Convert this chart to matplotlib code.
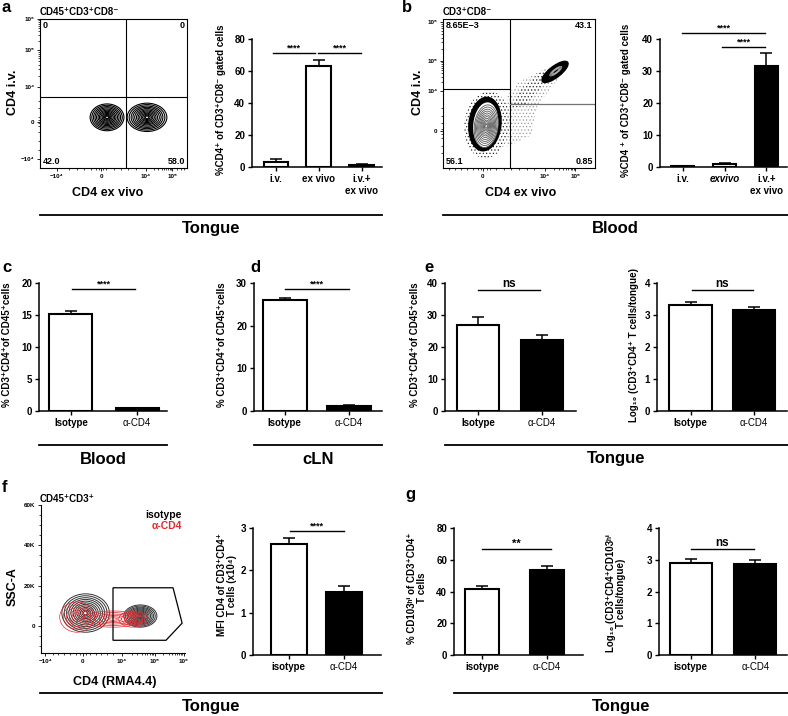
import numpy as np
import matplotlib
matplotlib.use('Agg')
import matplotlib.pyplot as plt
from matplotlib.patches import Ellipse, Polygon
from matplotlib.lines import Line2D

plt.rcParams['font.family'] = ['Liberation Sans', 'DejaVu Sans']
plt.rcParams['font.weight'] = 'bold'
plt.rcParams['hatch.linewidth'] = 0.5

W, H = 788, 716

# ---------------- data ----------------
# a - tongue, intravascular vs ex vivo CD4 staining
a_groups = ['i.v.', 'ex vivo', 'i.v.+\nex vivo']
a_means = [3.2, 63.2, 1.5]
a_sem = [1.8, 3.6, 0.6]
a_colors = ['white', 'white', 'black']
a_quad = ['0', '0', '42.0', '58.0']

# b - blood
b_groups = ['i.v.', 'exvivo', 'i.v.+\nex vivo']
b_means = [0.3, 1.0, 31.5]
b_sem = [0.1, 0.3, 4.1]
b_colors = ['white', 'white', 'black']
b_quad = ['8.65E\u22123', '43.1', '56.1', '0.85']

# c, d, e - depletion
dep_groups = ['Isotype', '\u03b1-CD4']
dep_colors = ['white', 'black']
c_means = [15.1, 0.4]
c_sem = [0.5, 0.1]
d_means = [26.0, 1.2]
d_sem = [0.6, 0.1]
e_pct_means = [26.8, 22.1]
e_pct_sem = [2.5, 1.8]
e_log_means = [3.3, 3.15]
e_log_sem = [0.1, 0.09]

# f, g - tongue after depletion
fg_groups = ['isotype', '\u03b1-CD4']
f_mfi_means = [2.62, 1.5]
f_mfi_sem = [0.15, 0.12]
g_pct_means = [41.5, 53.5]
g_pct_sem = [2.0, 2.5]
g_log_means = [2.9, 2.88]
g_log_sem = [0.12, 0.1]

# flow plot tick labels
a_flow_xlabels = ['\u221210\u2074', '0', '10\u2074', '10\u2075']
a_flow_ylabels = ['10\u2076', '10\u2075', '10\u2074', '0', '\u221210\u2074']
b_flow_xlabels = ['0', '10\u2074', '10\u2075']
b_flow_ylabels = ['10\u2076', '10\u2075', '10\u2074', '0']
f_flow_xlabels = ['\u221210\u2074', '0', '10\u2074', '10\u2075', '10\u2076']
f_flow_yticks = [0, 20, 40, 60]
f_flow_ylabels = ['0', '20K', '40K', '60K']

# contour populations (axes fraction; f uses x fraction / SSC in K)
a_pop_x = [0.456, 0.728]
a_pop_y = [0.34, 0.34]
a_pop_w = [0.23, 0.27]
a_pop_h = [0.18, 0.19]

b_pop_x = [0.276, 0.737]
b_pop_y = [0.295, 0.645]
b_pop_w = [0.21, 0.21]
b_pop_h = [0.36, 0.075]
b_pop_ang = [-6, 38]

f_black_x = [0.31, 0.69]
f_black_y = [6.5, 5.0]
f_black_w = [0.33, 0.23]
f_black_h = [19, 11]
f_red_x = [0.25, 0.50, 0.64]
f_red_y = [4.5, 3.5, 3.5]
f_red_w = [0.24, 0.42, 0.2]
f_red_h = [15, 8, 8]
f_gate_x = [0.5, 0.917, 0.98, 0.868, 0.5]
f_gate_y = [19, 19, 1.5, -7, -7]

ring_scales = [1.0, 0.9, 0.8, 0.71, 0.62, 0.53, 0.45, 0.37, 0.29, 0.22, 0.15, 0.09]

fig = plt.figure(figsize=(W / 100, H / 100), dpi=100)


def px_axes(l, t, r, b):
    return fig.add_axes([l / W, 1 - b / H, (r - l) / W, (b - t) / H])


def ftext(x, y, s, **kw):
    return fig.text(x / W, 1 - y / H, s, **kw)


def hline(x0, x1, y, lw=1.3):
    fig.add_artist(Line2D([x0 / W, x1 / W], [1 - y / H, 1 - y / H], color='black', lw=lw))


def log_minor(lo, hi):
    return [lo + np.log10(k) * (hi - lo) for k in range(2, 10)]


def rings(ax, x, y, w, h, angle=0, color='black', lw=0.6, scales=ring_scales, transform=None):
    tr = transform if transform is not None else ax.transData
    for s in scales:
        ax.add_patch(Ellipse((x, y), w * s, h * s, angle=angle, fill=False,
                             ec=color, lw=lw, transform=tr))


def flow_axes(rect):
    ax = px_axes(*rect)
    for sp in ax.spines.values():
        sp.set_linewidth(0.8)
    ax.tick_params(which='both', direction='out', labelsize=4.5, width=0.6, length=2.5, pad=1.5)
    ax.tick_params(which='minor', length=1.5, width=0.5)
    return ax


def bar_panel(rect, means, sem, colors, groups, ymax, yticks, xlim, width, ylabel, ylab_xy):
    ax = px_axes(*rect)
    x = np.arange(len(means))
    ax.bar(x, means, width=width, color=colors, edgecolor='black', linewidth=1.5, zorder=2)
    ax.errorbar(x, means, yerr=[[0] * len(sem), sem], fmt='none', ecolor='black',
                elinewidth=1.1, capsize=4, capthick=1.1, zorder=3)
    ax.set_xlim(*xlim)
    ax.set_ylim(0, ymax)
    ax.set_yticks(yticks)
    ax.set_xticks(x)
    ax.set_xticklabels(groups)
    ax.spines['top'].set_visible(False)
    ax.spines['right'].set_visible(False)
    ax.spines['left'].set_linewidth(1.1)
    ax.spines['bottom'].set_linewidth(1.1)
    ax.tick_params(labelsize=7, width=1, length=3, pad=2)
    for lab in ax.get_xticklabels():
        if '\u03b1' in lab.get_text():
            lab.set_fontweight('normal')
    ftext(ylab_xy[0], ylab_xy[1], ylabel, rotation=90, ha='center', va='center',
          fontsize=7, linespacing=1.1)
    return ax


def sig(ax, x0, x1, y, txt, fs=6.5):
    ax.plot([x0, x1], [y, y], color='black', lw=1.0, clip_on=False)
    ax.text((x0 + x1) / 2, y, txt, ha='center', va='bottom', fontsize=fs,
            fontweight='bold', clip_on=False)


def quad_labels(ax, labels):
    kw = dict(transform=ax.transAxes, fontsize=6.5, fontweight='bold')
    ax.text(0.02, 0.985, labels[0], ha='left', va='top', **kw)
    ax.text(0.985, 0.985, labels[1], ha='right', va='top', **kw)
    ax.text(0.02, 0.015, labels[2], ha='left', va='bottom', **kw)
    ax.text(0.985, 0.015, labels[3], ha='right', va='bottom', **kw)


# ---------------- panel a: flow plot ----------------
ax = flow_axes((40, 19, 187, 168))
ax.set_xlim(0, 1)
ax.set_ylim(0, 1)
ax.set_xticks([0.116, 0.415, 0.72, 0.90])
ax.set_xticklabels(a_flow_xlabels)
ax.set_xticks(log_minor(0.72, 0.90) + [0.93, 0.96, 0.98, 0.2, 0.25, 0.3, 0.35, 0.38, 0.40, 0.43, 0.45, 0.5, 0.55, 0.6, 0.65], minor=True)
ax.set_yticks([1.0, 0.79, 0.544, 0.309, 0.06])
ax.set_yticklabels(a_flow_ylabels)
ax.set_yticks(log_minor(0.544, 0.79) + log_minor(0.79, 1.0) + [0.12, 0.18, 0.24, 0.28, 0.3, 0.32, 0.34, 0.4, 0.45], minor=True)
for i in range(len(a_pop_x)):
    rings(ax, a_pop_x[i], a_pop_y[i], a_pop_w[i], a_pop_h[i], lw=0.8)
ax.axvline(0.585, color='black', lw=0.8)
ax.axhline(0.477, color='black', lw=0.8)
quad_labels(ax, a_quad)
ftext(40, 12, 'CD45\u207aCD3\u207aCD8\u207b', fontsize=7, ha='left', va='center')
ftext(108, 193, 'CD4 ex vivo', fontsize=9, ha='center', va='center')
ftext(13, 92, 'CD4 i.v.', fontsize=9, rotation=90, ha='center', va='center')

# ---------------- panel a: bars ----------------
ax = bar_panel((252, 39, 382, 167), a_means, a_sem, a_colors, a_groups, 80, [0, 20, 40, 60, 80],
               (-0.56, 2.47), 0.58, '%CD4\u207a of CD3\u207aCD8\u207b gated cells', (221, 100))
sig(ax, -0.07, 0.9, 71.3, '****')
sig(ax, 0.98, 1.98, 71.3, '****')

# ---------------- panel b: flow plot ----------------
ax = flow_axes((443, 19, 595, 168))
ax.set_xlim(0, 1)
ax.set_ylim(0, 1)
ax.set_xticks([0.263, 0.67, 0.87])
ax.set_xticklabels(b_flow_xlabels)
ax.set_xticks(log_minor(0.67, 0.87) + [0.04, 0.08, 0.12, 0.16, 0.2, 0.23, 0.25, 0.29, 0.31, 0.35, 0.4, 0.45, 0.5, 0.55, 0.6], minor=True)
ax.set_yticks([0.98, 0.718, 0.517, 0.248])
ax.set_yticklabels(b_flow_ylabels)
ax.set_yticks(log_minor(0.517, 0.718) + log_minor(0.718, 0.98) + [0.1, 0.15, 0.2, 0.23, 0.26, 0.3, 0.35, 0.4], minor=True)
# scattered events around and between the populations
ax.add_patch(Ellipse((0.29, 0.29), 0.30, 0.45, angle=-6, transform=ax.transAxes,
                     fill=False, ec='0.15', lw=0, hatch='.....'))
ax.add_patch(Polygon([(0.42, 0.14), (0.58, 0.22), (0.62, 0.42), (0.76, 0.60), (0.70, 0.68),
                      (0.50, 0.58), (0.42, 0.48)],
                     closed=True, transform=ax.transAxes, fill=False, ec='0.6', lw=0, hatch='.....'))
ax.add_patch(Polygon([(0.44, 0.40), (0.54, 0.42), (0.70, 0.60), (0.66, 0.66), (0.50, 0.52)],
                     closed=True, transform=ax.transAxes, fill=False, ec='0.25', lw=0, hatch='.....'))
# main population: black rim with contour interior
ax.add_patch(Ellipse((b_pop_x[0], b_pop_y[0]), b_pop_w[0], b_pop_h[0], angle=b_pop_ang[0],
                     transform=ax.transAxes, fc='black', ec='black'))
ax.add_patch(Ellipse((b_pop_x[0] + 0.005, b_pop_y[0] - 0.005), b_pop_w[0] * 0.78, b_pop_h[0] * 0.84,
                     angle=b_pop_ang[0], transform=ax.transAxes, fc='white', ec='none'))
rings(ax, b_pop_x[0] + 0.008, b_pop_y[0] - 0.015, b_pop_w[0] * 0.74, b_pop_h[0] * 0.8, angle=b_pop_ang[0],
      color='0.35', lw=0.6, scales=ring_scales, transform=ax.transAxes)
# double positive population
ax.add_patch(Ellipse((b_pop_x[1], b_pop_y[1]), b_pop_w[1], b_pop_h[1], angle=b_pop_ang[1],
                     transform=ax.transAxes, fc='black', ec='black'))
rings(ax, b_pop_x[1] + 0.005, b_pop_y[1] + 0.005, b_pop_w[1] * 0.6, b_pop_h[1] * 0.5, angle=b_pop_ang[1],
      color='0.7', lw=0.4, scales=ring_scales[2:8], transform=ax.transAxes)
ax.axvline(0.44, color='black', lw=0.8)
ax.plot([0, 0.44], [0.53, 0.53], color='black', lw=0.8)
ax.plot([0.44, 1], [0.43, 0.43], color='0.45', lw=0.9)
quad_labels(ax, b_quad)
ftext(443, 12, 'CD3\u207aCD8\u207b', fontsize=7, ha='left', va='center')
ftext(521, 193, 'CD4 ex vivo', fontsize=9, ha='center', va='center')
ftext(418, 92, 'CD4 i.v.', fontsize=9, rotation=90, ha='center', va='center')

# ---------------- panel b: bars ----------------
ax = bar_panel((660, 39, 787, 167), b_means, b_sem, b_colors, b_groups, 40, [0, 10, 20, 30, 40],
               (-0.55, 2.5), 0.55, '%CD4 \u207a of CD3\u207aCD8\u207b gated cells', (626, 100))
ax.get_xticklabels()[1].set_fontstyle('italic')
sig(ax, -0.02, 1.98, 41.9, '****')
sig(ax, 0.95, 1.98, 37.5, '****')

# ---------------- c, d, e ----------------
ax = bar_panel((39, 283, 167, 411), c_means, c_sem, dep_colors, dep_groups, 20, [0, 5, 10, 15, 20],
               (-0.48, 1.45), 0.65, '% CD3\u207aCD4\u207aof CD45\u207acells', (7, 345))
sig(ax, 0.02, 0.97, 19.1, '****')

ax = bar_panel((254, 283, 382, 411), d_means, d_sem, dep_colors, dep_groups, 30, [0, 10, 20, 30],
               (-0.48, 1.52), 0.69, '% CD3\u207aCD4\u207aof CD45\u207acells', (222, 345))
sig(ax, 0.0, 1.0, 28.6, '****')

ax = bar_panel((445, 283, 576, 411), e_pct_means, e_pct_sem, dep_colors, dep_groups, 40, [0, 10, 20, 30, 40],
               (-0.52, 1.53), 0.66, '% CD3\u207aCD4\u207aof CD45\u207acells', (415, 345))
sig(ax, 0.0, 0.97, 37.8, 'ns', fs=8.5)

ax = bar_panel((657, 283, 787, 411), e_log_means, e_log_sem, dep_colors, dep_groups, 4, [0, 1, 2, 3, 4],
               (-0.53, 1.52), 0.67, 'Log\u2081\u2080 (CD3\u207aCD4\u207a T cells/tongue)', (634, 345))
sig(ax, 0.02, 0.98, 3.78, 'ns', fs=8.5)

# ---------------- panel f: flow plot ----------------
ax = flow_axes((41, 505, 185, 653))
ax.set_xlim(0, 1)
ax.set_ylim(-13.3, 60)
ax.set_xticks([0.03, 0.29, 0.56, 0.79, 0.99])
ax.set_xticklabels(f_flow_xlabels)
ax.set_xticks(log_minor(0.56, 0.79) + log_minor(0.79, 0.99) + [0.08, 0.12, 0.16, 0.2, 0.24, 0.27, 0.31, 0.34, 0.38, 0.42, 0.46, 0.5], minor=True)
ax.set_yticks(f_flow_yticks)
ax.set_yticklabels(f_flow_ylabels)
ax.set_yticks([-10, -5, 5, 10, 15, 25, 30, 35, 45, 50, 55], minor=True)
ax.spines['top'].set_visible(False)
ax.spines['right'].set_visible(False)
for i in range(len(f_black_x)):
    rings(ax, f_black_x[i], f_black_y[i], f_black_w[i], f_black_h[i], color='#333333', lw=0.7)
for i in range(len(f_red_x)):
    rings(ax, f_red_x[i], f_red_y[i], f_red_w[i], f_red_h[i], color='#e8262b', lw=0.5,
          scales=ring_scales[::2])
ax.add_patch(Polygon(list(zip(f_gate_x, f_gate_y)), closed=True, fill=False, ec='black', lw=0.9))
ax.text(0.98, 0.93, 'isotype', transform=ax.transAxes, ha='right', va='center', fontsize=7.5)
ax.text(0.98, 0.855, '\u03b1-CD4', transform=ax.transAxes, ha='right', va='center', fontsize=7.5,
        color='#e8262b')
ftext(40, 499, 'CD45\u207aCD3\u207a', fontsize=7, ha='left', va='center')
ftext(115, 682, 'CD4 (RMA4.4)', fontsize=9, ha='center', va='center')
ftext(13, 587, 'SSC-A', fontsize=9, rotation=90, ha='center', va='center')

# ---------------- panel f: bars ----------------
ax = bar_panel((253, 528, 381, 655), f_mfi_means, f_mfi_sem, dep_colors, fg_groups, 3, [0, 1, 2, 3],
               (-0.65, 1.67), 0.64, 'MFI CD4 of CD3\u207aCD4\u207a\nT cells (x10\u2074)', (227, 585))
sig(ax, 0.02, 1.0, 2.93, '****')

# ---------------- panel g ----------------
ax = bar_panel((454, 528, 583, 655), g_pct_means, g_pct_sem, dep_colors, fg_groups, 80, [0, 20, 40, 60, 80],
               (-0.43, 1.55), 0.52, '% CD103\u02b0\u2071 of CD3\u207aCD4\u207a\nT cells', (417, 588))
sig(ax, 0.0, 1.06, 66.8, '**', fs=8)

ax = bar_panel((659, 528, 787, 655), g_log_means, g_log_sem, dep_colors, fg_groups, 4, [0, 1, 2, 3, 4],
               (-0.49, 1.49), 0.65, 'Log\u2081\u2080 (CD3\u207aCD4\u207aCD103\u02b0\u2071\nT cells/tongue)', (616, 593))
sig(ax, 0.0, 0.98, 3.34, 'ns', fs=8.5)

# ---------------- tissue brackets ----------------
brackets = [(40, 382, 215, 'Tongue'), (443, 788, 215, 'Blood'),
            (39, 167, 445, 'Blood'), (254, 382, 445, 'cLN'), (445, 788, 445, 'Tongue'),
            (40, 382, 693, 'Tongue'), (454, 788, 693, 'Tongue')]
for x0, x1, y, name in brackets:
    hline(x0, x1, y)
    ftext((x0 + x1) / 2, y + 14, name, fontsize=12, ha='center', va='center')

# panel letters
for letter, x, y in [('a', 2, 8), ('b', 402, 8), ('c', 2, 268), ('d', 250, 268),
                     ('e', 424, 268), ('f', 2, 488), ('g', 405, 495)]:
    ftext(x, y, letter, fontsize=12, ha='left', va='center')

fig.savefig('out.png', dpi=100)
